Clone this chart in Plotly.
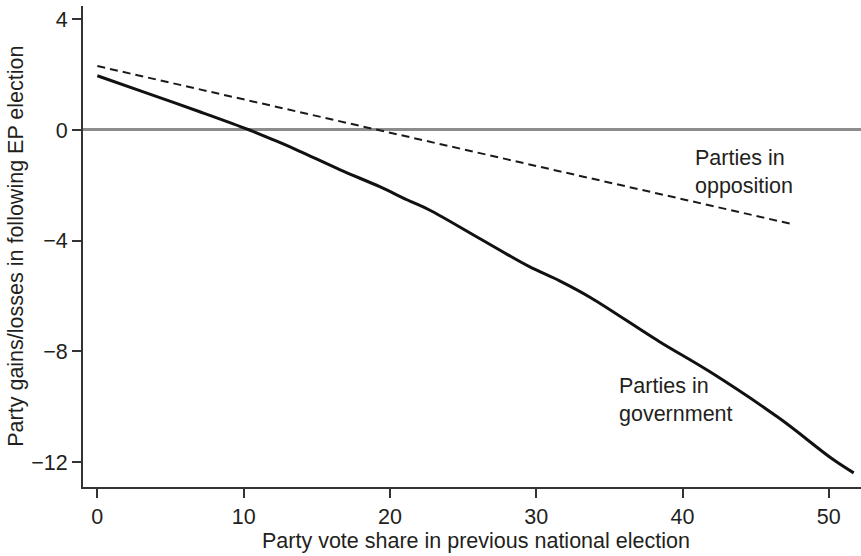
import plotly.graph_objects as go

# Data
gov_x = [0, 2.9, 7.0, 10.4, 12.5, 13.8, 16.6, 19.3, 21.2, 22.7, 26.1, 29.5, 31.6, 33.7, 38.4, 41.85, 46.6, 50.3, 51.7]
gov_y = [1.96, 1.42, 0.66, 0.0, -0.46, -0.76, -1.44, -2.05, -2.53, -2.89, -3.91, -4.93, -5.45, -6.05, -7.64, -8.73, -10.41, -11.91, -12.39]

opp_x = [0, 10, 20, 30, 40, 47.4]
opp_y = [2.31, 1.1, -0.1, -1.3, -2.5, -3.39]

x_ticks = [0, 10, 20, 30, 40, 50]
y_ticks = [4, 0, -4, -8, -12]
y_tick_text = ["4", "0", "\u22124", "\u22128", "\u221212"]

x_title = "Party vote share in previous national election"
y_title = "Party gains/losses in following EP election"

FONT = "Liberation Sans, Arial, Helvetica, sans-serif"
TXT = "#231f20"
FS = 21.5

fig = go.Figure()
fig.add_trace(go.Scatter(x=opp_x, y=opp_y, mode="lines",
                         line=dict(color="#1a1a1a", width=2, dash="8px,5px"),
                         name="Parties in opposition", showlegend=False, hoverinfo="skip"))
fig.add_trace(go.Scatter(x=gov_x, y=gov_y, mode="lines", line_shape="spline",
                         line=dict(color="#111111", width=3),
                         name="Parties in government", showlegend=False, hoverinfo="skip"))

fig.add_annotation(x=40.7, y=-1.52, xanchor="left", yanchor="middle", align="left",
                   text="Parties in<br>opposition", showarrow=False,
                   font=dict(family=FONT, size=FS, color=TXT))
fig.add_annotation(x=35.5, y=-9.75, xanchor="left", yanchor="middle", align="left",
                   text="Parties in<br>government", showarrow=False,
                   font=dict(family=FONT, size=FS, color=TXT))

# Axis titles placed precisely in paper coordinates
fig.add_annotation(x=0.505, y=-0.1133, xref="paper", yref="paper", xanchor="center",
                   yanchor="middle", text=x_title, showarrow=False,
                   font=dict(family=FONT, size=FS, color=TXT))
fig.add_annotation(x=-0.0865, y=0.501, xref="paper", yref="paper", xanchor="center",
                   yanchor="middle", text=y_title, textangle=-90, showarrow=False,
                   font=dict(family=FONT, size=FS, color=TXT))

fig.update_layout(
    width=861, height=556,
    margin=dict(l=83, r=0, t=6, b=69),
    paper_bgcolor="white", plot_bgcolor="white",
    font=dict(family=FONT, size=FS, color=TXT),
    xaxis=dict(range=[-0.98, 52.2], tickvals=x_ticks, ticks="outside", ticklen=9,
               tickwidth=2, tickcolor="#333", showline=True, linecolor="#333", linewidth=2,
               showgrid=False, zeroline=False, automargin=False, ticklabeloverflow="allow"),
    yaxis=dict(range=[-12.9, 4.48], tickvals=y_ticks, ticktext=y_tick_text, ticks="outside",
               ticklen=9, tickwidth=2, tickcolor="#333", showline=True, linecolor="#333",
               linewidth=2, showgrid=False, zeroline=True, zerolinecolor="#8c8c8c",
               zerolinewidth=3, automargin=False, ticklabeloverflow="allow"),
)

# Remove the browser's default 8px body margin so the figure sits at the page origin
fig.write_html("out.html",
               config={"displayModeBar": False},
               post_script="document.body.style.margin='0';document.body.style.overflow='hidden';")
